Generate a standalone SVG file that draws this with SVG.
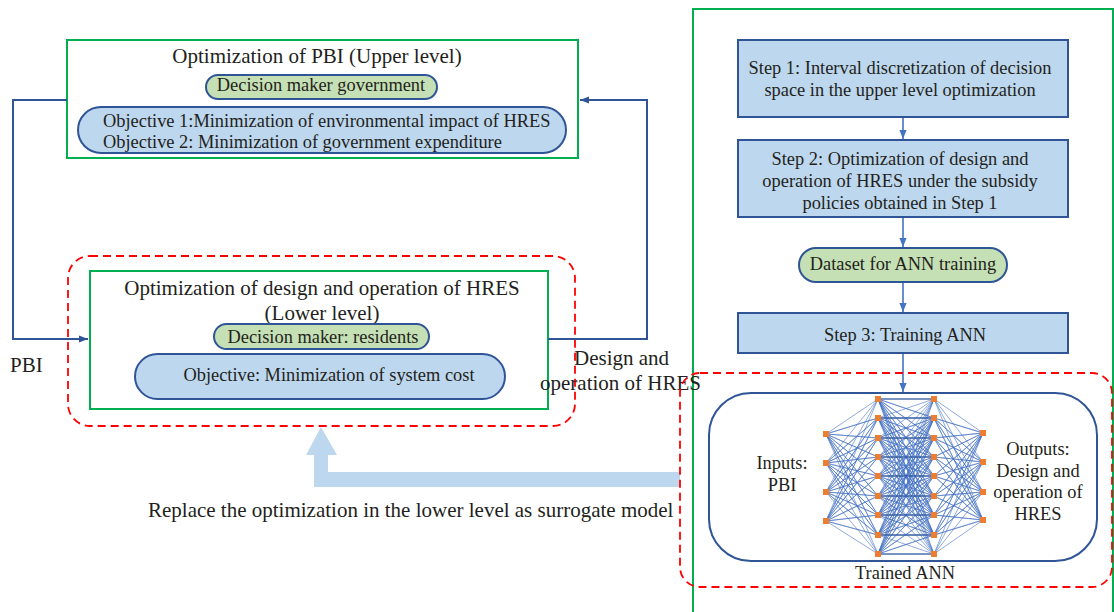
<svg xmlns="http://www.w3.org/2000/svg" width="1114" height="612" viewBox="0 0 1114 612">
<style>
text{font-family:"Liberation Serif","Times New Roman",serif;fill:#231F20}
.t21{font-size:21px}
.t18{font-size:18.4px}
.mid{text-anchor:middle}
.green{fill:none;stroke:#00B050;stroke-width:2}
.reddash{fill:none;stroke:#FF0000;stroke-width:1.8;stroke-dasharray:8 5}
.pillg{fill:#C5E0B4;stroke:#2F5597;stroke-width:2}
.pillb{fill:#BDD7EE;stroke:#2F5597;stroke-width:2}
.step{fill:#BDD7EE;stroke:#2F5597;stroke-width:2}
.conn{fill:none;stroke:#2F5597;stroke-width:2}
.flow{fill:none;stroke:#4472C4;stroke-width:1.6}
.ann{fill:none;stroke:#4472C4;stroke-width:0.6}
.annh{fill:none;stroke:#2F5597;stroke-width:1.1}
.node{fill:#ED7D31}
</style>
<defs>
<marker id="arrD" viewBox="0 0 10 10" refX="10" refY="5" markerWidth="9" markerHeight="9" markerUnits="userSpaceOnUse" orient="auto"><path d="M0,1L10,5L0,9z" fill="#2F5597"/></marker>
<marker id="arrB" viewBox="0 0 10 10" refX="10" refY="5" markerWidth="9" markerHeight="9" markerUnits="userSpaceOnUse" orient="auto"><path d="M0,1L10,5L0,9z" fill="#4472C4"/></marker>
</defs>
<rect width="1114" height="612" fill="#FFFFFF"/>

<!-- right framework box -->
<rect id="framework" x="693" y="9" width="420" height="620" class="green"/>

<g id="upper-level">
<rect x="67" y="40" width="511" height="118" class="green"/>
<text x="317" y="63" class="t21 mid">Optimization of PBI (Upper level)</text>
<rect x="206" y="75" width="231" height="24" rx="12" class="pillg"/>
<text x="321" y="91" class="t18 mid">Decision maker government</text>
<rect x="78" y="107" width="488" height="46" rx="23" class="pillb"/>
<text x="103" y="127" class="t18">Objective 1:Minimization of environmental impact of HRES</text>
<text x="103" y="148" class="t18">Objective 2: Minimization of government expenditure</text>
</g>

<g id="lower-level">
<rect x="68" y="256" width="507" height="170" rx="22" class="reddash"/>
<rect x="90" y="271" width="458" height="138" class="green"/>
<text x="322" y="295" class="t21 mid">Optimization of design and operation of HRES</text>
<text x="322" y="320" class="t21 mid">(Lower level)</text>
<rect x="214" y="324" width="215" height="25" rx="12.5" class="pillg"/>
<text x="323" y="343" class="t18 mid">Decision maker: residents</text>
<rect x="135" y="354" width="370" height="45" rx="22.5" class="pillb"/>
<text x="329" y="381" class="t18 mid">Objective: Minimization of system cost</text>
</g>

<g id="connectors">
<path d="M67 100H13V339H88" class="conn" marker-end="url(#arrD)"/>
<path d="M548 339H647V100H580" class="conn" marker-end="url(#arrD)"/>
<path d="M903 117V139" class="flow" marker-end="url(#arrB)"/>
<path d="M903 217V247" class="flow" marker-end="url(#arrB)"/>
<path d="M903 282V312" class="flow" marker-end="url(#arrB)"/>
<path d="M903 354V392" class="flow" marker-end="url(#arrB)"/>
<polygon points="680,472 328,472 328,455 337,455 321,427 306,455 314,455 314,487 680,487" fill="#BDD7EE"/>
</g>

<g id="labels">
<text x="10" y="372" class="t21">PBI</text>
<text x="574" y="365" class="t21">Design and</text>
<text x="540" y="390" class="t21">operation of HRES</text>
<text x="148" y="517" class="t21">Replace the optimization in the lower level as surrogate model</text>
</g>

<g id="step1">
<rect x="738" y="40" width="330" height="77" class="step"/>
<text x="900" y="74" class="t18 mid">Step 1: Interval discretization of decision</text>
<text x="900" y="96" class="t18 mid">space in the upper level optimization</text>
</g>
<g id="step2">
<rect x="738" y="140" width="330" height="77" class="step"/>
<text x="900" y="165" class="t18 mid">Step 2: Optimization of design and</text>
<text x="900" y="187" class="t18 mid">operation of HRES under the subsidy</text>
<text x="900" y="209" class="t18 mid">policies obtained in Step 1</text>
</g>
<g id="dataset">
<rect x="799" y="248" width="208" height="34" rx="17" class="pillg"/>
<text x="903" y="270" class="t18 mid">Dataset for ANN training</text>
</g>
<g id="step3">
<rect x="738" y="313" width="330" height="40" class="step"/>
<text x="905" y="341" class="t18 mid">Step 3: Training ANN</text>
</g>

<g id="trained-ann">
<rect x="680" y="373" width="432" height="214" rx="20" class="reddash"/>
<rect x="709" y="393" width="388" height="168" rx="42" fill="#FFFFFF" stroke="#2F5597" stroke-width="2"/>
<path class="ann" d="M878 399L826 434L878 418L826 434L878 438L826 434L878 457L826 434L878 476L826 434L878 496L826 434L878 515L826 434L878 535L826 434L878 554
M878 399L826 463L878 418L826 463L878 438L826 463L878 457L826 463L878 476L826 463L878 496L826 463L878 515L826 463L878 535L826 463L878 554
M878 399L826 492L878 418L826 492L878 438L826 492L878 457L826 492L878 476L826 492L878 496L826 492L878 515L826 492L878 535L826 492L878 554
M878 399L826 521L878 418L826 521L878 438L826 521L878 457L826 521L878 476L826 521L878 496L826 521L878 515L826 521L878 535L826 521L878 554
M934 399L878 399L934 418L878 399L934 438L878 399L934 457L878 399L934 476L878 399L934 496L878 399L934 515L878 399L934 535L878 399L934 554
M934 399L878 418L934 418L878 418L934 438L878 418L934 457L878 418L934 476L878 418L934 496L878 418L934 515L878 418L934 535L878 418L934 554
M934 399L878 438L934 418L878 438L934 438L878 438L934 457L878 438L934 476L878 438L934 496L878 438L934 515L878 438L934 535L878 438L934 554
M934 399L878 457L934 418L878 457L934 438L878 457L934 457L878 457L934 476L878 457L934 496L878 457L934 515L878 457L934 535L878 457L934 554
M934 399L878 476L934 418L878 476L934 438L878 476L934 457L878 476L934 476L878 476L934 496L878 476L934 515L878 476L934 535L878 476L934 554
M934 399L878 496L934 418L878 496L934 438L878 496L934 457L878 496L934 476L878 496L934 496L878 496L934 515L878 496L934 535L878 496L934 554
M934 399L878 515L934 418L878 515L934 438L878 515L934 457L878 515L934 476L878 515L934 496L878 515L934 515L878 515L934 535L878 515L934 554
M934 399L878 535L934 418L878 535L934 438L878 535L934 457L878 535L934 476L878 535L934 496L878 535L934 515L878 535L934 535L878 535L934 554
M934 399L878 554L934 418L878 554L934 438L878 554L934 457L878 554L934 476L878 554L934 496L878 554L934 515L878 554L934 535L878 554L934 554
M934 399L983 433L934 418L983 433L934 438L983 433L934 457L983 433L934 476L983 433L934 496L983 433L934 515L983 433L934 535L983 433L934 554
M934 399L983 462L934 418L983 462L934 438L983 462L934 457L983 462L934 476L983 462L934 496L983 462L934 515L983 462L934 535L983 462L934 554
M934 399L983 492L934 418L983 492L934 438L983 492L934 457L983 492L934 476L983 492L934 496L983 492L934 515L983 492L934 535L983 492L934 554
M934 399L983 520L934 418L983 520L934 438L983 520L934 457L983 520L934 476L983 520L934 496L983 520L934 515L983 520L934 535L983 520L934 554"/>
<path class="annh" d="M878 399H934M878 418H934M878 438H934M878 457H934M878 476H934M878 496H934M878 515H934M878 535H934M878 554H934"/>
<g class="node">
<rect x="823" y="431" width="6" height="6"/><rect x="823" y="460" width="6" height="6"/><rect x="823" y="489" width="6" height="6"/><rect x="823" y="518" width="6" height="6"/>
<rect x="875" y="396" width="6" height="6"/><rect x="875" y="415" width="6" height="6"/><rect x="875" y="435" width="6" height="6"/><rect x="875" y="454" width="6" height="6"/><rect x="875" y="473" width="6" height="6"/><rect x="875" y="493" width="6" height="6"/><rect x="875" y="512" width="6" height="6"/><rect x="875" y="532" width="6" height="6"/><rect x="875" y="551" width="6" height="6"/>
<rect x="931" y="396" width="6" height="6"/><rect x="931" y="415" width="6" height="6"/><rect x="931" y="435" width="6" height="6"/><rect x="931" y="454" width="6" height="6"/><rect x="931" y="473" width="6" height="6"/><rect x="931" y="493" width="6" height="6"/><rect x="931" y="512" width="6" height="6"/><rect x="931" y="532" width="6" height="6"/><rect x="931" y="551" width="6" height="6"/>
<rect x="980" y="430" width="6" height="6"/><rect x="980" y="459" width="6" height="6"/><rect x="980" y="489" width="6" height="6"/><rect x="980" y="517" width="6" height="6"/>
</g>
<text x="782" y="469" class="t18 mid">Inputs:</text>
<text x="782" y="491" class="t18 mid">PBI</text>
<text x="1038" y="455" class="t18 mid">Outputs:</text>
<text x="1038" y="477" class="t18 mid">Design and</text>
<text x="1038" y="498" class="t18 mid">operation of</text>
<text x="1038" y="520" class="t18 mid">HRES</text>
<text x="905" y="579" class="t18 mid">Trained ANN</text>
</g>
</svg>
